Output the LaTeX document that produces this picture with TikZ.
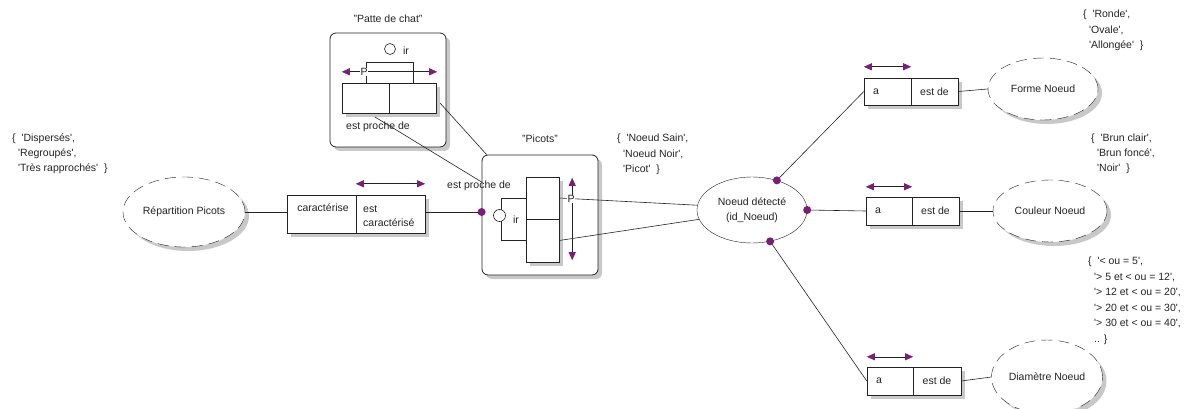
\documentclass[tikz,border=0pt]{standalone}
\usepackage{fontspec}
\setmainfont{Liberation Sans}
\usetikzlibrary{shapes.geometric,shadows,arrows.meta}
\definecolor{ap}{RGB}{122,30,120}
\definecolor{ln}{RGB}{35,35,35}
\definecolor{sh}{RGB}{200,200,200}
\newcommand{\sq}{\textquotesingle}
\begin{document}
\begin{tikzpicture}[x=1pt,y=-1pt,
  every node/.style={font=\fontsize{10.5}{15.5}\selectfont, text=ln},
  shad/.style={drop shadow={shadow xshift=4pt,shadow yshift=-4pt,fill=sh,opacity=1}},
  cell/.style={draw=ln,fill=white,shad,inner sep=0pt},
  ell/.style={ellipse,draw=ln,fill=white,inner sep=0pt},
  dell/.style={ell,dash pattern=on 11pt off 6pt,shad},
  rbox/.style={draw=ln,fill=white,rounded corners=6pt,shad,line width=0.8pt},
  conn/.style={draw=ln,line width=0.6pt},
  dbl/.style={draw=ln,line width=0.6pt,{Triangle[length=8pt,width=7pt,color=ap]}-{Triangle[length=8pt,width=7pt,color=ap]}},
  vset/.style={anchor=base west,align=left,inner sep=0pt},
  txt/.style={inner sep=0pt}
]
\useasboundingbox (0,0) rectangle (1203,409);

% ---------- Patte de chat ----------
\node[txt] (lpatte) at (388,19) {"Patte de chat"};
\node[rbox,minimum width=116pt,minimum height=114pt] (patte) at (388,90) {};
\node[cell,minimum width=47pt,minimum height=30pt] (pa1) at (365.5,98) {};
\node[cell,minimum width=47pt,minimum height=30pt] (pa2) at (412.5,98) {};
\draw[conn] (366,83) -- (366,62) -- (413,62) -- (413,83);
\draw[dbl] ([yshift=11pt]pa1.north west) -- ([xshift=1pt,yshift=11pt]pa2.north east);
\node[txt,fill=white,inner xsep=0.5pt] (ppa) at (364,72) {P};
\draw[conn,fill=white] (390,49) circle (5.5pt);
\node[txt] (ipa) at (406,51) {ir};
\node[txt] (epa) at (378,127) {est proche de};

% ---------- Picots ----------
\node[txt] (lpic) at (540,139) {"Picots"};
\node[rbox,minimum width=116pt,minimum height=120pt] (pic) at (540,215) {};
\node[cell,minimum width=33pt,minimum height=42pt] (pc1) at (542.5,198) {};
\node[cell,minimum width=33pt,minimum height=43pt] (pc2) at (542.5,240.5) {};
\draw[conn] (526,198) -- (501,198) -- (501,240) -- (526,240);
\draw[conn,fill=white] (499.5,215.5) circle (6pt);
\node[txt] (ipc) at (516,220) {ir};
\node[txt] (epc) at (479,186) {est proche de};

% ---------- Relation caractérise ----------
\node[cell,minimum width=69pt,minimum height=38pt] (ra) at (321.5,214) {};
\node[cell,minimum width=69pt,minimum height=38pt,align=left] (rb) at (390.5,214) {};
\node[txt] (tra) at (323,208) {caractérise};
\node[txt,anchor=base west] (trb1) at (363,212) {est};
\node[txt,anchor=base west] (trb2) at (363,226) {caractérisé};
\draw[dbl] ([yshift=11pt]rb.north west) -- ([yshift=11pt]rb.north east);

% ---------- Ellipses ----------
\node[dell,minimum width=122pt,minimum height=70pt] (rep) at (184,212) {Répartition Picots};
\node[ell,minimum width=110pt,minimum height=66pt,align=center] (nd) at (752,210) {Noeud détecté\\(id\_Noeud)};
\node[dell,minimum width=110pt,minimum height=62pt] (forme) at (1043,89) {Forme Noeud};
\node[dell,minimum width=114pt,minimum height=62pt] (coul) at (1050,211) {Couleur Noeud};
\node[dell,minimum width=111pt,minimum height=74pt] (diam) at (1047,377) {Diamètre Noeud};

% ---------- Right relation boxes ----------
\node[cell,minimum width=47pt,minimum height=27pt] (fa) at (887.5,91.5) {};
\node[cell,minimum width=47pt,minimum height=27pt] (fb) at (934.5,91.5) {est de};
\node[txt,anchor=west] (tfa) at ([xshift=9pt]fa.west) {a};
\draw[dbl] ([yshift=11pt]fa.north west) -- ([yshift=11pt]fa.north east);

\node[cell,minimum width=46pt,minimum height=28pt] (ca) at (889,211) {};
\node[cell,minimum width=47pt,minimum height=28pt] (cb) at (935.5,211) {est de};
\node[txt,anchor=west] (tca) at ([xshift=9pt]ca.west) {a};
\draw[dbl] ([yshift=10pt]ca.north west) -- ([yshift=10pt]ca.north east);

\node[cell,minimum width=46pt,minimum height=28pt] (da) at (890,381) {};
\node[cell,minimum width=48pt,minimum height=28pt] (db) at (937,381) {est de};
\node[txt,anchor=west] (tda) at ([xshift=9pt]da.west) {a};
\draw[dbl] ([yshift=10pt]da.north west) -- ([yshift=10pt]da.north east);

% ---------- Connectors ----------
\coordinate (picdot) at (pic.west |- 0,212);
\coordinate (pl1s) at (375,117);
\coordinate (pl1e) at (pic.west |- 0,182);
\coordinate (pl2s) at (440,103);
\coordinate (pl2e) at ([xshift=5pt]pic.north west);
\draw[conn] (rep.east) -- (ra.west |- rep.east);
\draw[conn] (rb.east |- picdot) -- (picdot);
\draw[conn] (pl1s) -- (pl1e);
\draw[conn] (pl2s) -- (pl2e);
\draw[conn] (pc1.east) -- (nd.175);
\draw[conn] (pc2.east) -- (nd.190);
\draw[conn] (nd.50) -- (fa.west);
\draw[conn] (nd.0) -- (ca.west);
\draw[conn] (nd.-60) -- (da.west);
\draw[conn] (fb.east) -- (forme.west);
\draw[conn] (cb.east) -- (coul.west);
\draw[conn] (db.east) -- (diam.west);

% vertical arrow in Picots
\draw[dbl] ([xshift=13pt,yshift=-1pt]pc1.north east) -- ([xshift=13pt,yshift=2pt]pc2.south east);
\node[txt,fill=white,inner xsep=0.5pt] (ppc) at (571,199) {P};

% dots
\fill[ap] (picdot) circle (4pt);
\fill[ap] (nd.50) circle (4pt);
\fill[ap] (nd.0) circle (4pt);
\fill[ap] (nd.-60) circle (4pt);

% ---------- Value sets (anchor = baseline of last line) ----------
\node[vset] (vrep) at (12,172) {\{\ \ \sq Dispersés\sq,\\\hspace*{6pt}\sq Regroupés\sq,\\\hspace*{6pt}\sq Très rapprochés\sq\ \ \}};
\node[vset] (vnd) at (617,173) {\{\ \ \sq Noeud Sain\sq,\\\hspace*{6pt}\sq Noeud Noir\sq,\\\hspace*{6pt}\sq Picot\sq\ \ \}};
\node[vset] (vforme) at (1083,49) {\{\ \ \sq Ronde\sq,\\\hspace*{6pt}\sq Ovale\sq,\\\hspace*{6pt}\sq Allongée\sq\ \ \}};
\node[vset] (vcoul) at (1091,172) {\{\ \ \sq Brun clair\sq,\\\hspace*{6pt}\sq Brun foncé\sq,\\\hspace*{6pt}\sq Noir\sq\ \ \}};
\node[vset] (vdiam) at (1088,342) {\{\ \ \sq< ou = 5\sq,\\\hspace*{6pt}\sq> 5 et < ou = 12\sq,\\\hspace*{6pt}\sq> 12 et < ou = 20\sq,\\\hspace*{6pt}\sq> 20 et < ou = 30\sq,\\\hspace*{6pt}\sq> 30 et < ou = 40\sq,\\\hspace*{6pt}.. \}};
\end{tikzpicture}
\end{document}
